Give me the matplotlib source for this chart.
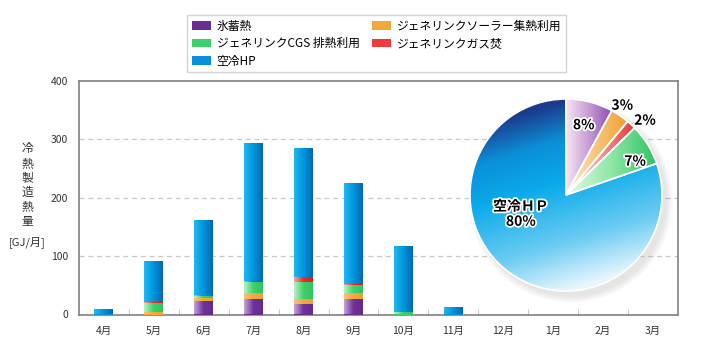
import matplotlib
matplotlib.use("Agg")
import matplotlib.pyplot as plt
import numpy as np
from matplotlib.colors import LinearSegmentedColormap
from matplotlib.patches import Patch, Circle
import matplotlib.patheffects as pe

plt.rcParams['font.family'] = ['Noto Sans CJK JP', 'DejaVu Sans']

# monthly values [GJ/month], April .. March
months = ['4月', '5月', '6月', '7月', '8月', '9月', '10月', '11月', '12月', '1月', '2月', '3月']
ice   = [0, 0, 23, 27, 18, 27, 0, 0, 0, 0, 0, 0]        # 氷蓄熱
solar = [0, 5, 5, 9, 9, 10, 0, 0, 0, 0, 0, 0]          # ソーラー集熱利用
cgs   = [0, 15, 4, 20, 28, 13, 4, 0, 0, 0, 0, 0]       # CGS排熱利用
gas   = [0, 2, 2, 2, 10, 3, 0, 0, 0, 0, 0, 0]          # ガス焚
hp    = [9, 70, 128, 236, 220, 173, 114, 13, 0, 0, 0, 0]  # 空冷HP

names = {'ice': '氷蓄熱', 'solar': 'ジェネリンクソーラー集熱利用',
         'cgs': 'ジェネリンクCGS 排熱利用', 'gas': 'ジェネリンクガス焚', 'hp': '空冷HP'}

# bar gradients left -> right
bar_cols = {
    'ice':   ['#c6a3d8', '#6e3296', '#642c8e'],
    'solar': ['#f6c27a', '#f2a83c', '#eea035'],
    'cgs':   ['#b8f0c6', '#3fd06c', '#30c462'],
    'gas':   ['#f6a6a6', '#ec2a2a', '#e31c23'],
    'hp':    ['#20b8f2', '#0096dc', '#0068b6'],
}
flat = {'ice': '#6a2f92', 'solar': '#f2a83c', 'cgs': '#3ccf6a', 'gas': '#ee3b3b', 'hp': '#0a8fd8'}


def fill_gradient(ax, patch, colors):
    if patch.get_height() <= 0:
        return
    cmap = LinearSegmentedColormap.from_list('g', colors)
    x0, y0 = patch.get_x(), patch.get_y()
    w, h = patch.get_width(), patch.get_height()
    grad = np.linspace(0, 1, 64).reshape(1, -1)
    im = ax.imshow(grad, cmap=cmap, extent=(x0, x0 + w, y0, y0 + h),
                   aspect='auto', zorder=patch.get_zorder() + 0.1, interpolation='bilinear')
    im.set_clip_path(patch)


fig = plt.figure(figsize=(7.06, 3.56), dpi=100)
ax = fig.add_axes([79 / 706, 1 - 314.5 / 356, 599 / 706, 233.5 / 356])

x = np.arange(len(months))
bottom = np.zeros(len(months))
for key, vals in [('ice', ice), ('solar', solar), ('cgs', cgs), ('gas', gas), ('hp', hp)]:
    bars = ax.bar(x, vals, 0.38, bottom=bottom, color=flat[key], zorder=3, linewidth=0)
    for b in bars:
        fill_gradient(ax, b, bar_cols[key])
    bottom += np.array(vals)

ax.set_xlim(-0.5, 11.5)
ax.set_ylim(0, 400)
ax.set_yticks([0, 100, 200, 300, 400])
ax.set_xticks(x)
ax.set_xticklabels(months)
ax.set_xticks(np.arange(0.5, 11.5, 1), minor=True)
ax.tick_params(axis='both', which='major', length=0, labelsize=7.5, colors='#333333', pad=8)
ax.tick_params(axis='x', which='minor', direction='in', length=4, color='#bbbbbb')
for y in [100, 200, 300]:
    ax.axhline(y, color='#c8c8c8', lw=0.9, ls=(0, (4, 3)), zorder=1)
for s in ax.spines.values():
    s.set_color('#808080')
    s.set_linewidth(1.2)

fig.text(27 / 706, 1 - 185 / 356, '冷\n熱\n製\n造\n熱\n量', ha='center', va='center',
         fontsize=8.5, color='#333333', linespacing=1.15)
fig.text(27 / 706, 1 - 242 / 356, '[GJ/月]', ha='center', va='center', fontsize=8, color='#333333')

# legend
order = ['ice', 'cgs', 'hp', 'solar', 'gas']
handles = [Patch(facecolor=flat[k], edgecolor='none', label=names[k]) for k in order]
leg = fig.legend(handles=handles, loc='upper left', bbox_to_anchor=(187 / 706, 1 - 15 / 356),
                 ncol=2, fontsize=8.5, frameon=True, fancybox=False, borderaxespad=0,
                 handlelength=1.6, handleheight=0.7, handletextpad=0.5,
                 labelspacing=0.38, columnspacing=1.1, borderpad=0.4)
leg.get_frame().set_edgecolor('#c8c8c8')
leg.get_frame().set_linewidth(1.0)

# pie of the yearly totals
pie_keys = ['ice', 'solar', 'gas', 'cgs', 'hp']
totals = [sum(ice), sum(solar), sum(gas), sum(cgs), sum(hp)]
share = np.array(totals) / sum(totals)

lim = 1.15
r_px = 96
w_px = 2 * lim * r_px
pax = fig.add_axes([(566 - w_px / 2) / 706, (356 - 195 - w_px / 2) / 356, w_px / 706, w_px / 356])

for k in range(6):
    pax.add_patch(Circle((0.05, -0.06), 1.0 + 0.012 * k, color='#888888', alpha=0.035, lw=0, zorder=0))
pax.add_patch(Circle((0, 0), 1.0, color='white', lw=0, zorder=0.5))

wedges, _ = pax.pie(totals, startangle=90, counterclock=False, radius=1,
                    colors=[flat[k] for k in pie_keys],
                    wedgeprops=dict(edgecolor='white', linewidth=1.2))

pie_grads = {
    'ice':   ['#f8e6f2', '#c79bd6', '#8e4fae'],
    'solar': ['#fdecd2', '#f8c47a', '#f0a030'],
    'gas':   ['#fde0e0', '#f59a9a', '#ec3535'],
    'cgs':   ['#e4fbe6', '#8fe6a6', '#2ec462'],
}
gx, gy = np.meshgrid(np.linspace(-1, 1, 200), np.linspace(1, -1, 200))
for w, key in zip(wedges, pie_keys):
    if key == 'hp':
        t = np.clip((1 - gy) / 2 + 0.15 * gx, 0, 1)
        cmap = LinearSegmentedColormap.from_list('b', [(0, '#1c3a8c'), (0.2, '#0b8fd6'),
                                                       (0.42, '#0aaaea'), (0.75, '#6cccf2'),
                                                       (1, '#e6f6fd')])
    else:
        a1, a2 = np.deg2rad(w.theta1), np.deg2rad(w.theta2)
        xmax = max(np.cos(a1), np.cos(a2))
        t = np.clip(gx / xmax, 0, 1)
        cmap = LinearSegmentedColormap.from_list('p', pie_grads[key])
    im = pax.imshow(t, cmap=cmap, extent=(-1, 1, -1, 1), vmin=0, vmax=1,
                    zorder=w.get_zorder() + 0.1, interpolation='bilinear')
    im.set_clip_path(w)
    w.set_zorder(w.get_zorder() + 0.2)
    w.set_facecolor('none')
pax.set_xlim(-lim, lim)
pax.set_ylim(-lim, lim)
pax.set_aspect('equal')
pax.axis('off')

stroke = [pe.withStroke(linewidth=2.5, foreground='white')]
dists = [0.75, 1.1, 1.13, 0.8]
shifts = [0, 2, -4, -6]
for w, key, s, d, sh in zip(wedges, pie_keys, share, dists, shifts):
    ang = np.deg2rad((w.theta1 + w.theta2) / 2 + sh)
    pax.text(d * np.cos(ang), d * np.sin(ang), f'{s * 100:.0f}%', ha='center', va='center',
             fontsize=10, fontweight='bold', color='black', path_effects=stroke, zorder=10)
pax.text(-0.47, -0.2, f'空冷ＨＰ\n{share[-1] * 100:.0f}%', ha='center', va='center',
         fontsize=10, fontweight='bold', color='black', path_effects=stroke, zorder=10,
         linespacing=1.1)

fig.savefig('out.png', dpi=100)
